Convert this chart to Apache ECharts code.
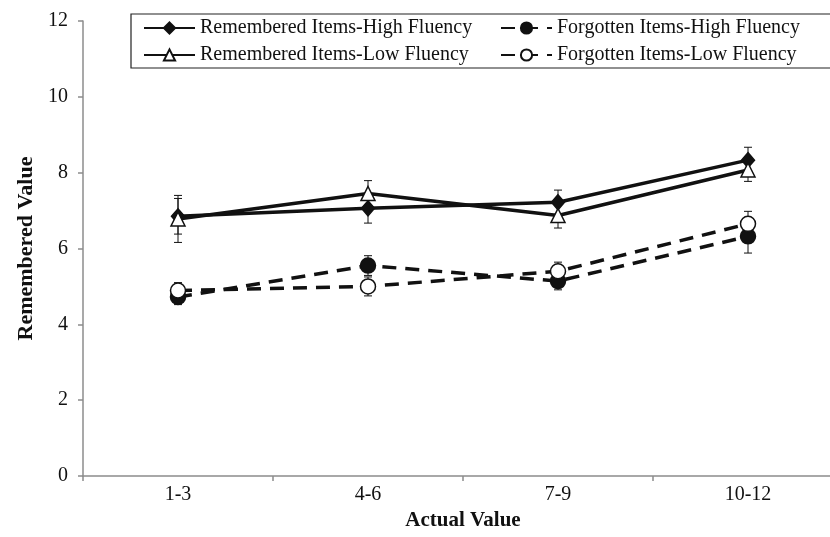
<!DOCTYPE html>
<html>
<head>
<meta charset="utf-8">
<script src="https://cdn.jsdelivr.net/npm/echarts@6/dist/echarts.min.js"></script>
<style>
  html, body { margin: 0; padding: 0; background: #fff; }
  #main { width: 830px; height: 537px; }
</style>
</head>
<body>
<div id="main"></div>
<script>
// categories and values
var categories = ['1-3', '4-6', '7-9', '10-12'];
var yTicks = [0, 2, 4, 6, 8, 10, 12];

var remHigh = [6.85, 7.06, 7.22, 8.33];
var remHighErr = [0.47, 0.39, 0.32, 0.34];
var remLow = [6.78, 7.45, 6.87, 8.07];
var remLowErr = [0.62, 0.34, 0.33, 0.30];
var forHigh = [4.72, 5.55, 5.14, 6.32];
var forHighErr = [0.20, 0.26, 0.23, 0.44];
var forLow = [4.89, 5.00, 5.40, 6.65];
var forLowErr = [0.21, 0.25, 0.24, 0.33];

var names = [
  'Remembered Items-High Fluency',
  'Forgotten Items-High Fluency',
  'Remembered Items-Low Fluency',
  'Forgotten Items-Low Fluency'
];

var FONT = 'Liberation Serif';

function errData(vals, errs) {
  var out = [];
  for (var i = 0; i < vals.length; i++) {
    out.push([i, vals[i] - errs[i], vals[i] + errs[i]]);
  }
  return out;
}

function errSeries(vals, errs) {
  return {
    type: 'custom',
    silent: true,
    z: 3,
    data: errData(vals, errs),
    renderItem: function (params, api) {
      var lo = api.coord([api.value(0), api.value(1)]);
      var hi = api.coord([api.value(0), api.value(2)]);
      var w = 4;
      var st = { stroke: '#111', lineWidth: 1 };
      return {
        type: 'group',
        children: [
          { type: 'line', shape: { x1: lo[0], y1: lo[1], x2: hi[0], y2: hi[1] }, style: st },
          { type: 'line', shape: { x1: lo[0] - w, y1: lo[1], x2: lo[0] + w, y2: lo[1] }, style: st },
          { type: 'line', shape: { x1: hi[0] - w, y1: hi[1], x2: hi[0] + w, y2: hi[1] }, style: st }
        ]
      };
    }
  };
}

function lineSeries(name, data, symbol, size, fill, dashed) {
  return {
    name: name,
    type: 'line',
    data: data,
    symbol: symbol,
    symbolSize: size,
    z: 4,
    itemStyle: { color: fill, borderColor: '#111', borderWidth: 1.5 },
    lineStyle: { color: '#111', width: 3.5, type: dashed ? [14, 9] : 'solid' }
  };
}

var chart = echarts.init(document.getElementById('main'));

var legendText = { fontFamily: FONT, fontSize: 20, color: '#111' };

var option = {
  backgroundColor: '#fff',
  animation: false,
  textStyle: { fontFamily: FONT },
  grid: { left: 83, top: 21, right: -13, bottom: 61, outerBoundsMode: 'none', containLabel: false },
  legend: [
    {
      data: [names[0], names[2]],
      orient: 'vertical',
      left: 143,
      top: 18,
      padding: 0,
      itemWidth: 51,
      itemHeight: 14,
      itemGap: 7,
      textStyle: legendText
    },
    {
      data: [names[1], names[3]],
      orient: 'vertical',
      left: 500,
      top: 18,
      padding: 0,
      itemWidth: 51,
      itemHeight: 14,
      itemGap: 7,
      textStyle: legendText
    }
  ],
  graphic: [
    {
      type: 'rect',
      shape: { x: 131, y: 14, width: 720, height: 54 },
      style: { fill: 'none', stroke: '#222', lineWidth: 1.2 },
      z: 0
    }
  ],
  xAxis: {
    type: 'category',
    data: categories,
    boundaryGap: true,
    name: 'Actual Value',
    nameLocation: 'middle',
    nameGap: 34,
    nameTextStyle: { fontFamily: FONT, fontSize: 21, fontWeight: 'bold', color: '#111' },
    axisLine: { lineStyle: { color: '#8c8c8c', width: 1.5 } },
    axisTick: { show: true, length: 5, lineStyle: { color: '#8c8c8c', width: 1.5 } },
    axisLabel: { fontFamily: FONT, fontSize: 20, color: '#111', margin: 9 },
    splitLine: { show: false }
  },
  yAxis: {
    type: 'value',
    min: yTicks[0],
    max: yTicks[yTicks.length - 1],
    interval: 2,
    name: 'Remembered Value',
    nameLocation: 'middle',
    nameGap: 41,
    nameTextStyle: { fontFamily: FONT, fontSize: 22, fontWeight: 'bold', color: '#111' },
    axisLine: { show: true, lineStyle: { color: '#8c8c8c', width: 1.5 } },
    axisTick: { show: true, length: 5, lineStyle: { color: '#8c8c8c', width: 1.5 } },
    axisLabel: { fontFamily: FONT, fontSize: 20, color: '#111', margin: 15 },
    splitLine: { show: false }
  },
  series: [
    errSeries(remHigh, remHighErr),
    errSeries(remLow, remLowErr),
    errSeries(forHigh, forHighErr),
    errSeries(forLow, forLowErr),
    lineSeries(names[0], remHigh, 'diamond', [13, 15], '#111', false),
    lineSeries(names[2], remLow, 'triangle', [14, 14], '#fff', false),
    lineSeries(names[1], forHigh, 'circle', 15, '#111', true),
    lineSeries(names[3], forLow, 'circle', 15, '#fff', true)
  ]
};

chart.setOption(option);
</script>
</body>
</html>
